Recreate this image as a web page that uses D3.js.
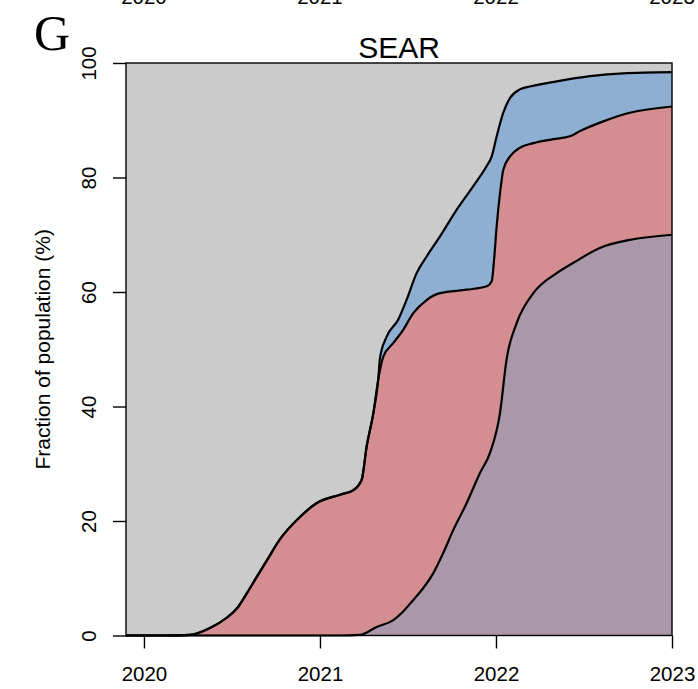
<!DOCTYPE html>
<html><head><meta charset="utf-8">
<script src="https://cdn.jsdelivr.net/npm/d3@7"></script>
<style>
body{margin:0;background:#fff}
svg{display:block}
text{font-family:"Liberation Sans",Arial,Helvetica,sans-serif;fill:#000}
</style>
</head><body>
<svg id="chart" width="698" height="689"></svg>
<script>
// ---- data ----
const panelLabel = "G";
const title = "SEAR";
const yTitle = "Fraction of population (%)";
const xTicks = [2020, 2021, 2022, 2023];
const yTicks = [0, 20, 40, 60, 80, 100];
const xDomain = [2019.898, 2023];

// upper boundary (grey / blue)
const topTime  = [2019.898, 2020.15, 2020.26, 2020.375, 2020.47, 2020.53, 2020.585, 2020.64, 2020.70, 2020.77, 2020.886, 2020.98, 2021.114, 2021.19, 2021.237, 2021.265, 2021.303, 2021.331, 2021.341, 2021.379, 2021.445, 2021.493, 2021.549, 2021.606, 2021.682, 2021.777, 2021.871, 2021.947, 2021.976, 2022.004, 2022.041, 2022.08, 2022.136, 2022.193, 2022.345, 2022.534, 2022.723, 2023];
const topValue = [0, 0, 0.1, 1.3, 3.1, 4.8, 7.4, 10.2, 13.2, 16.7, 20.7, 23.1, 24.6, 25.4, 27.2, 33.0, 38.8, 44.7, 48.5, 52.2, 55.2, 58.7, 63.3, 66.2, 69.7, 74.4, 78.5, 82.0, 83.7, 87.2, 91.3, 93.9, 95.4, 95.9, 96.8, 97.7, 98.2, 98.4];

// middle boundary (blue / red)
const midTime  = [2019.898, 2020.15, 2020.26, 2020.375, 2020.47, 2020.53, 2020.585, 2020.64, 2020.70, 2020.77, 2020.886, 2020.98, 2021.114, 2021.19, 2021.237, 2021.265, 2021.303, 2021.331, 2021.36, 2021.417, 2021.473, 2021.53, 2021.606, 2021.682, 2021.834, 2021.947, 2021.976, 2021.989, 2022.004, 2022.023, 2022.042, 2022.08, 2022.136, 2022.212, 2022.326, 2022.42, 2022.477, 2022.61, 2022.761, 2023];
const midValue = [0, 0, 0.1, 1.3, 3.1, 4.8, 7.4, 10.2, 13.2, 16.7, 20.7, 23.1, 24.6, 25.4, 27.2, 33.0, 38.8, 44.7, 48.7, 51.1, 53.4, 56.3, 58.6, 59.8, 60.4, 61.0, 61.9, 65.6, 71.5, 77.3, 81.4, 83.7, 85.2, 86.0, 86.7, 87.2, 88.1, 89.8, 91.3, 92.4];

// lower boundary (red / purple)
const lowTime  = [2019.898, 2021.114, 2021.227, 2021.322, 2021.417, 2021.473, 2021.53, 2021.587, 2021.644, 2021.70, 2021.757, 2021.833, 2021.909, 2021.966, 2022.023, 2022.06, 2022.118, 2022.212, 2022.345, 2022.44, 2022.59, 2022.76, 2023];
const lowValue = [0, 0, 0.1, 1.5, 2.7, 4.2, 6.2, 8.3, 10.9, 14.4, 18.4, 23.1, 28.4, 31.9, 38.9, 48.2, 54.6, 59.8, 63.3, 65.1, 67.7, 69.1, 70.0];

const colors = {grey: "#cbcbcb", blue: "#8eafd1", red: "#d48e92", purple: "#aa97aa"};

// ---- drawing ----
const svg = d3.select("#chart");
const m = {left: 126, right: 672, top: 63, bottom: 635.5};
const x = d3.scaleLinear().domain(xDomain).range([m.left, m.right]);
const y = d3.scaleLinear().domain([0, 100]).range([m.bottom, m.top]);

const toPts = (ts, vs) => ts.map((t, i) => ({t, v: vs[i]}));
const topPts = toPts(topTime, topValue);
const midPts = toPts(midTime, midValue);
const lowPts = toPts(lowTime, lowValue);

const area = d3.area().x(d => x(d.t)).y0(y(0)).y1(d => y(d.v)).curve(d3.curveMonotoneX);
const line = d3.line().x(d => x(d.t)).y(d => y(d.v)).curve(d3.curveMonotoneX);

svg.append("rect").attr("x", x(xDomain[0])).attr("y", y(100))
  .attr("width", x(xDomain[1]) - x(xDomain[0])).attr("height", y(0) - y(100))
  .attr("fill", colors.grey);

svg.append("path").datum(topPts).attr("d", area).attr("fill", colors.blue);
svg.append("path").datum(midPts).attr("d", area).attr("fill", colors.red);
svg.append("path").datum(lowPts).attr("d", area).attr("fill", colors.purple);

[topPts, midPts, lowPts].forEach(p => {
  svg.append("path").datum(p).attr("d", line)
    .attr("fill", "none").attr("stroke", "#000").attr("stroke-width", 2.2)
    .attr("stroke-linejoin", "round");
});

// plot box
svg.append("rect").attr("x", x(xDomain[0])).attr("y", y(100))
  .attr("width", x(xDomain[1]) - x(xDomain[0])).attr("height", y(0) - y(100))
  .attr("fill", "none").attr("stroke", "#000").attr("stroke-width", 1.4);

// x axis
const gx = svg.append("g").attr("transform", `translate(0,${y(0)})`)
  .call(d3.axisBottom(x).tickValues(xTicks).tickSize(13).tickFormat(d3.format("d")));
gx.select(".domain").remove();
gx.selectAll(".tick line").attr("stroke", "#000").attr("stroke-width", 1.4);
gx.selectAll(".tick text").attr("y", 0).attr("dy", null)
  .attr("transform", "translate(0,45.5)")
  .style("font-size", "20.5px").style("font-family", '"Liberation Sans",Arial,sans-serif');

// y axis
const gy = svg.append("g").attr("transform", `translate(${x(xDomain[0])},0)`)
  .call(d3.axisLeft(y).tickValues(yTicks).tickSize(13).tickFormat(d3.format("d")));
gy.select(".domain").remove();
gy.selectAll(".tick line").attr("stroke", "#000").attr("stroke-width", 1.4);
gy.selectAll(".tick text").attr("x", null).attr("dy", null).attr("y", 0)
  .attr("text-anchor", "middle")
  .attr("transform", "translate(-30,0) rotate(-90)")
  .style("font-size", "20.5px").style("font-family", '"Liberation Sans",Arial,sans-serif');

// partial labels of the panel above (cut at top edge)
svg.append("g").selectAll("text").data(xTicks).join("text")
  .attr("x", d => x(d)).attr("y", 3.5).attr("text-anchor", "middle")
  .style("font-size", "20.5px").text(d => d);

// title
svg.append("text").attr("x", (m.left + m.right) / 2).attr("y", 58)
  .attr("text-anchor", "middle").style("font-size", "30px").text(title);

// panel label
svg.append("text").attr("x", 34).attr("y", 49.5)
  .style("font-family", '"Liberation Serif","Times New Roman",serif')
  .style("font-size", "50px").text(panelLabel);

// y title
svg.append("text").attr("transform", `translate(50,${(m.top + m.bottom) / 2}) rotate(-90)`)
  .attr("text-anchor", "middle").style("font-size", "21px").text(yTitle);
</script>
</body></html>
